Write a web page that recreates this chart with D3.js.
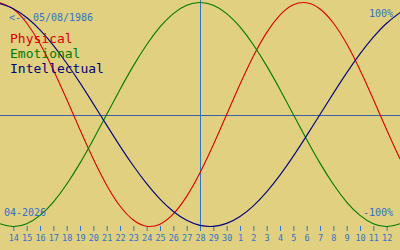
<!DOCTYPE html>
<html>
<head>
<meta charset="utf-8">
<script src="https://cdn.jsdelivr.net/npm/d3@7"></script>
<style>
    body { margin: 0; background: #e0d080; }
    svg { display: block; }
    text { font-family: "DejaVu Sans Mono", monospace; }
</style>
</head>
<body>
<div class="graph"></div>
<script>
// birth date and the month shown (13 Apr - 13 May 2026, today = 28 Apr)
var birthLabel = "<-- 05/08/1986";
var monthLabel = "04-2026";
var dayLabels = ["13", "14", "15", "16", "17", "18", "19", "20", "21", "22", "23", "24", "25", "26", "27", "28",
    "29", "30", "1", "2", "3", "4", "5", "6", "7", "8", "9", "10", "11", "12", "13"];
var todayIndex = 15;

// daily values, -1 .. 1
var physical = [0.998, 0.942, 0.817, 0.631, 0.398, 0.136, -0.136, -0.398, -0.631, -0.817, -0.942,
    -0.998, -0.979, -0.888, -0.731, -0.520, -0.270, 0, 0.270, 0.520, 0.731, 0.888, 0.979, 0.998,
    0.942, 0.817, 0.631, 0.398, 0.136, -0.136, -0.398];
var emotional = [-0.975, -1, -0.975, -0.901, -0.782, -0.623, -0.434, -0.223, 0, 0.223, 0.434,
    0.623, 0.782, 0.901, 0.975, 1, 0.975, 0.901, 0.782, 0.623, 0.434, 0.223, 0, -0.223, -0.434,
    -0.623, -0.782, -0.901, -0.975, -1, -0.975];
var intellectual = [0.990, 0.945, 0.866, 0.756, 0.618, 0.458, 0.282, 0.095, -0.095, -0.282, -0.458,
    -0.618, -0.756, -0.866, -0.945, -0.990, -0.999, -0.972, -0.910, -0.815, -0.690, -0.541, -0.372,
    -0.189, 0, 0.189, 0.372, 0.541, 0.690, 0.815, 0.910];

var seriesNames = ["Physical", "Emotional", "Intellectual"];
var seriesColors = ["#dd0000", "#007a00", "#000080"];

var loadChart = function () {
    const WIDTH = 400;
    const HEIGHT = 250;
    const BLUE = "#3272c8";

    var xScale = d3.scaleLinear().domain([0, dayLabels.length - 1]).range([0, WIDTH]);
    var yScale = d3.scaleLinear().domain([-1, 1]).range([226.5, 2.5]);

    var svg = d3.select(".graph").append("svg")
        .attr("width", WIDTH)
        .attr("height", HEIGHT);

    svg.append("rect")
        .attr("width", WIDTH)
        .attr("height", HEIGHT)
        .attr("fill", "#e0d080");

    // zero line
    var zeroY = Math.round(yScale(0)) + 0.5;
    svg.append("line")
        .attr("x1", 0).attr("x2", WIDTH)
        .attr("y1", zeroY).attr("y2", zeroY)
        .attr("stroke", "#3a60a8")
        .attr("stroke-width", 1);

    // today line
    var todayX = Math.round(xScale(todayIndex)) + 0.5;
    svg.append("line")
        .attr("x1", todayX).attr("x2", todayX)
        .attr("y1", 0).attr("y2", 231)
        .attr("stroke", BLUE)
        .attr("stroke-width", 1);

    // day axis
    var xAxis = d3.axisBottom(xScale)
        .tickValues(d3.range(1, dayLabels.length - 1))
        .tickFormat(function (i) { return dayLabels[i]; })
        .tickSize(5)
        .tickPadding(4);
    var axis = svg.append("g")
        .attr("transform", "translate(0,226)")
        .call(xAxis);
    axis.select(".domain").remove();
    axis.selectAll(".tick line").attr("stroke", BLUE);
    axis.selectAll(".tick text")
        .attr("fill", BLUE)
        .style("font-family", "'DejaVu Sans Mono', monospace")
        .style("font-size", "8.5px");

    var line = d3.line()
        .x(function (d, i) { return xScale(i); })
        .y(function (d) { return yScale(d); })
        .curve(d3.curveNatural);

    [physical, emotional, intellectual].forEach(function (values, k) {
        svg.append("path")
            .attr("d", line(values))
            .style("fill", "none")
            .style("stroke", seriesColors[k])
            .style("stroke-width", "1.1");
    });

    // labels
    svg.append("text")
        .attr("x", 9)
        .attr("y", 21)
        .attr("fill", BLUE)
        .attr("font-size", 10.5)
        .attr("textLength", 84)
        .attr("lengthAdjust", "spacingAndGlyphs")
        .text(birthLabel);

    seriesNames.forEach(function (name, k) {
        svg.append("text")
            .attr("x", 10)
            .attr("y", 43 + k * 15)
            .attr("fill", seriesColors[k])
            .attr("font-size", 13)
            .text(name);
    });

    svg.append("text")
        .attr("x", 393)
        .attr("y", 16.5)
        .attr("text-anchor", "end")
        .attr("fill", BLUE)
        .attr("font-size", 10)
        .text("100%");

    svg.append("text")
        .attr("x", 393)
        .attr("y", 216)
        .attr("text-anchor", "end")
        .attr("fill", BLUE)
        .attr("font-size", 10)
        .text("-100%");

    svg.append("text")
        .attr("x", 4)
        .attr("y", 215.5)
        .attr("fill", BLUE)
        .attr("font-size", 10)
        .text(monthLabel);
};

window.onload = loadChart;
</script>
</body>
</html>
